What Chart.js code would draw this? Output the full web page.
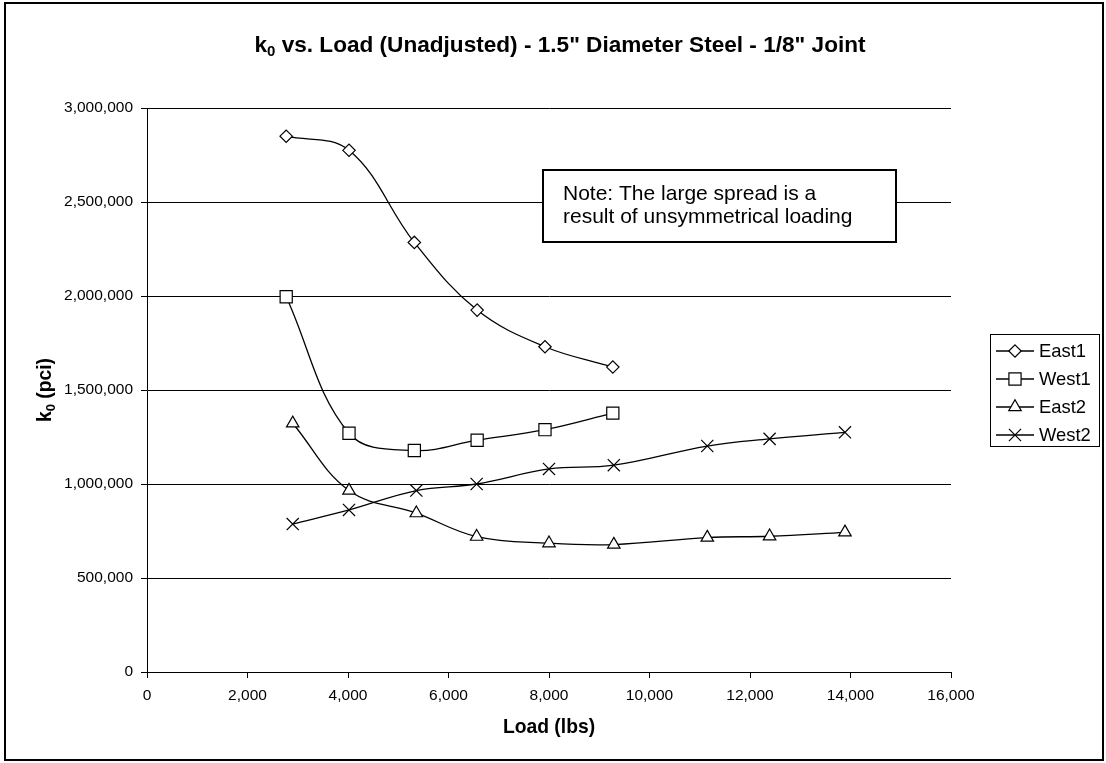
<!DOCTYPE html>
<html>
<head>
<meta charset="utf-8">
<script src="https://cdn.jsdelivr.net/npm/chart.js@4.4.1/dist/chart.umd.min.js"></script>
<style>
html,body{margin:0;padding:0;background:#fff;}
canvas{display:block;}
</style>
</head>
<body>
<canvas id="c" width="1106" height="763"></canvas>
<script>
// ---- data ----
const seriesNames = ["East1", "West1", "East2", "West2"];
const loadsA = [2770, 4020, 5320, 6570, 7920, 9270];
const east1 = [2850000, 2775000, 2285000, 1925000, 1730000, 1622000];
const west1 = [1996000, 1270000, 1178000, 1233000, 1289000, 1377000];
const loadsB = [2900, 4020, 5360, 6560, 8000, 9290, 11150, 12390, 13890];
const east2 = [1323000, 965000, 845000, 720000, 685000, 678000, 715000, 722000, 743000];
const west2 = [787000, 862000, 965000, 1000000, 1080000, 1100000, 1202000, 1240000, 1275000];
const xTicksStep = 2000;
const yTicksStep = 500000;
const noteLines = ["Note: The large spread is a", "result of unsymmetrical loading"];

const FONT = '"Liberation Sans", Arial, sans-serif';
function pts(xs, ys){ return xs.map((x,i)=>({x:x, y:ys[i]})); }

const styles = [
  {pointStyle:'rectRot', radius:6.2},
  {pointStyle:'rect', radius:8.6},
  {pointStyle:'triangle', radius:7.2},
  {pointStyle:'crossRot', radius:8.6}
];
const seriesData = [pts(loadsA, east1), pts(loadsA, west1), pts(loadsB, east2), pts(loadsB, west2)];

const datasets = seriesNames.map((n,i)=>({
  label:n,
  data:seriesData[i],
  showLine:true,
  tension:0.38,
  borderColor:'#000',
  borderWidth:1.3,
  pointStyle:styles[i].pointStyle,
  pointRadius:styles[i].radius,
  pointBackgroundColor:'#fff',
  pointBorderColor:'#000',
  pointBorderWidth:1.2,
  pointHoverRadius:styles[i].radius
}));

function marker(ctx, style, r, x, y){
  ctx.save();
  ctx.beginPath();
  ctx.strokeStyle='#000'; ctx.fillStyle='#fff'; ctx.lineWidth=1.2;
  if(style==='rectRot'){
    ctx.moveTo(x, y-r); ctx.lineTo(x+r, y); ctx.lineTo(x, y+r); ctx.lineTo(x-r, y); ctx.closePath();
    ctx.fill(); ctx.stroke();
  } else if(style==='rect'){
    const s=Math.SQRT1_2*r; ctx.rect(x-s, y-s, 2*s, 2*s); ctx.fill(); ctx.stroke();
  } else if(style==='triangle'){
    const a=-Math.PI/2;
    for(let k=0;k<3;k++){ const t=a+k*2*Math.PI/3; const px=x+Math.cos(t)*r, py=y+Math.sin(t)*r; if(k===0)ctx.moveTo(px,py); else ctx.lineTo(px,py);}
    ctx.closePath(); ctx.fill(); ctx.stroke();
  } else if(style==='crossRot'){
    const o=Math.SQRT1_2*r;
    ctx.moveTo(x-o,y-o); ctx.lineTo(x+o,y+o); ctx.moveTo(x+o,y-o); ctx.lineTo(x-o,y+o); ctx.stroke();
  }
  ctx.restore();
}

const decor = {
  id:'decor',
  beforeDraw(chart){
    const ctx=chart.ctx;
    ctx.save();
    ctx.fillStyle='#fff'; ctx.fillRect(0,0,chart.width,chart.height);
    ctx.restore();
  },
  afterDraw(chart){
    const ctx=chart.ctx; const ca=chart.chartArea;
    ctx.save();
    // outer frame
    ctx.strokeStyle='#000'; ctx.lineWidth=2;
    ctx.strokeRect(5,3,1098,757);
    ctx.fillStyle='#000';
    // title with subscript
    const tSize=22.6, sSize=15;
    const p1='k', p2='0', p3=' vs. Load (Unadjusted) - 1.5" Diameter Steel - 1/8" Joint';
    ctx.font='bold '+tSize+'px '+FONT; const w1=ctx.measureText(p1).width, w3=ctx.measureText(p3).width;
    ctx.font='bold '+sSize+'px '+FONT; const w2=ctx.measureText(p2).width;
    let tx=560-(w1+w2+w3)/2; const ty=52;
    ctx.textBaseline='alphabetic'; ctx.textAlign='left';
    ctx.font='bold '+tSize+'px '+FONT; ctx.fillText(p1,tx,ty); tx+=w1;
    ctx.font='bold '+sSize+'px '+FONT; ctx.fillText(p2,tx,ty+4); tx+=w2;
    ctx.font='bold '+tSize+'px '+FONT; ctx.fillText(p3,tx,ty);
    // x axis title
    ctx.font='bold 19.3px '+FONT; ctx.textAlign='center'; ctx.textBaseline='alphabetic';
    ctx.fillText('Load (lbs)', (ca.left+ca.right)/2, 733);
    // y axis title (rotated)
    ctx.save();
    ctx.translate(51,(ca.top+ca.bottom)/2); ctx.rotate(-Math.PI/2);
    const a1='k', a2='0', a3=' (pci)';
    ctx.font='bold 19.3px '+FONT; const b1=ctx.measureText(a1).width, b3=ctx.measureText(a3).width;
    ctx.font='bold 13px '+FONT; const b2=ctx.measureText(a2).width;
    let ax=-(b1+b2+b3)/2; ctx.textAlign='left';
    ctx.font='bold 19.3px '+FONT; ctx.fillText(a1,ax,0); ax+=b1;
    ctx.font='bold 13px '+FONT; ctx.fillText(a2,ax,4); ax+=b2;
    ctx.font='bold 19.3px '+FONT; ctx.fillText(a3,ax,0);
    ctx.restore();
    // note box
    ctx.fillStyle='#fff'; ctx.fillRect(543,170,353,72);
    ctx.strokeStyle='#000'; ctx.lineWidth=2; ctx.strokeRect(543,170,353,72);
    ctx.fillStyle='#000'; ctx.font='21px '+FONT; ctx.textAlign='left'; ctx.textBaseline='middle';
    ctx.fillText(noteLines[0],563,194);
    ctx.fillText(noteLines[1],563,217);
    // legend
    ctx.fillStyle='#fff'; ctx.fillRect(990.5,334.5,109,112);
    ctx.strokeStyle='#000'; ctx.lineWidth=1; ctx.strokeRect(990.5,334.5,109,112);
    const ys=[351,379,407,435];
    chart.data.datasets.forEach((ds,i)=>{
      const y=ys[i];
      ctx.beginPath(); ctx.strokeStyle='#000'; ctx.lineWidth=1.3;
      ctx.moveTo(996,y); ctx.lineTo(1034,y); ctx.stroke();
      marker(ctx, ds.pointStyle, ds.pointRadius, 1015, y);
      ctx.fillStyle='#000'; ctx.font='18.4px '+FONT; ctx.textAlign='left'; ctx.textBaseline='middle';
      ctx.fillText(ds.label,1039,y+1);
    });
    ctx.restore();
  }
};

new Chart(document.getElementById('c'), {
  type:'scatter',
  data:{datasets:datasets},
  plugins:[decor],
  options:{
    responsive:false,
    animation:false,
    devicePixelRatio:1,
    layout:{padding:{left:47,top:108,right:155,bottom:0}},
    plugins:{legend:{display:false}, tooltip:{enabled:false}, title:{display:false}},
    scales:{
      x:{
        type:'linear', min:0, max:16000,
        afterFit(s){ s.height=91; },
        ticks:{stepSize:xTicksStep, color:'#000', font:{family:FONT, size:15.5}, padding:8, maxRotation:0,
          callback:v=>Number(v).toLocaleString('en-US')},
        grid:{drawOnChartArea:false, drawTicks:true, tickLength:6, color:'#000', lineWidth:1},
        border:{color:'#000', width:1}
      },
      y:{
        type:'linear', min:0, max:3000000,
        afterFit(s){ s.width=100; },
        ticks:{stepSize:yTicksStep, color:'#000', font:{family:FONT, size:15.5}, padding:8,
          callback:v=>Number(v).toLocaleString('en-US')},
        grid:{drawOnChartArea:true, drawTicks:true, tickLength:6, color:'#000', lineWidth:1},
        border:{color:'#000', width:1}
      }
    }
  }
});
</script>
</body>
</html>
